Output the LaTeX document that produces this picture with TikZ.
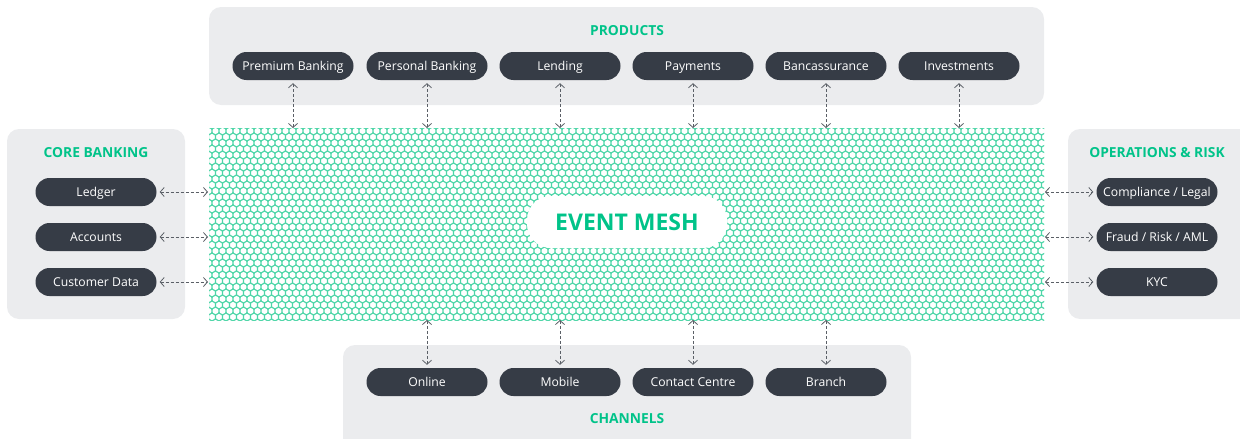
\documentclass[tikz,border=0pt]{standalone}
\usepackage{fontspec}
\setmainfont{Open Sans}
\usetikzlibrary{arrows.meta}
\definecolor{boxgray}{HTML}{EBECEE}
\definecolor{pilldark}{HTML}{363C46}
\definecolor{mgreen}{HTML}{00C389}
\definecolor{meshgreen}{HTML}{4DD5A7}
\definecolor{arrgray}{HTML}{5A5F66}
\tikzset{
  panel/.style={fill=boxgray, draw=none, rounded corners=12pt},
  pill/.style={fill=pilldark, text=white, rounded corners=14pt, minimum width=121pt, minimum height=28pt, inner sep=0pt, text height=8.7pt, text depth=0pt, font=\fontsize{12.2}{14}\selectfont},
  ttl/.style={text=mgreen, font=\fontsize{13.8}{16}\selectfont\bfseries},
  link/.style={draw=arrgray, line width=0.8pt, dash pattern=on 3pt off 2pt, {Straight Barb[length=4pt,width=9pt]}-{Straight Barb[length=4pt,width=9pt]}}
}
\begin{document}
\begin{tikzpicture}[x=1pt,y=-1pt]
\useasboundingbox (0,0) rectangle (1240,439);
\begin{scope}
\clip (0,0) rectangle (1240,439);
% panels
\fill[panel] (209,7) rectangle (1044,105);
\fill[panel] (7,129) rectangle (185,319);
\fill[panel] (1068,129) rectangle (1262,319);
\fill[panel] (343,345) rectangle (911,460);
\end{scope}
% mesh
\begin{scope}
\clip (209,128) rectangle (1044,320);
\foreach \j in {0,...,33} {
  \pgfmathsetmacro{\off}{3.5*mod(\j,2)}
  \draw[meshgreen, line width=0.8pt] foreach \i in {0,...,121} {
    ({205+7*\i+\off},{125+6*\j}) circle (3.8)
  };
}
\end{scope}
\node[fill=white, rounded corners=24pt, minimum width=200pt, minimum height=52pt, text=mgreen, font=\fontsize{23}{26}\selectfont\bfseries] (mesh) at (627,222) {EVENT MESH};
% titles
\node[ttl] (tprod) at (627,31) {PRODUCTS};
\node[ttl] (tcore) at (96,153) {CORE BANKING};
\node[ttl] (tops) at (1157,153) {OPERATIONS \& RISK};
\node[ttl] (tchan) at (627,419) {CHANNELS};
% products
\node[pill] (p1) at (293,66) {Premium Banking};
\node[pill] (p2) at (427,66) {Personal Banking};
\node[pill] (p3) at (560,66) {Lending};
\node[pill] (p4) at (693,66) {Payments};
\node[pill] (p5) at (826,66) {Bancassurance};
\node[pill] (p6) at (959,66) {Investments};
% core
\node[pill] (c1) at (96,192) {Ledger};
\node[pill] (c2) at (96,237) {Accounts};
\node[pill] (c3) at (96,282) {Customer Data};
% ops
\node[pill] (o1) at (1157,192) {Compliance / Legal};
\node[pill] (o2) at (1157,237) {Fraud / Risk / AML};
\node[pill] (o3) at (1157,282) {KYC};
% channels
\node[pill] (h1) at (427,382) {Online};
\node[pill] (h2) at (560,382) {Mobile};
\node[pill] (h3) at (693,382) {Contact Centre};
\node[pill] (h4) at (826,382) {Branch};
% mesh anchor coordinates
\foreach \n/\x in {1/293,2/427,3/560,4/693,5/826,6/959} {
  \coordinate (mt\n) at (\x,128);
}
\foreach \n/\x in {1/427,2/560,3/693,4/826} {
  \coordinate (mb\n) at (\x,320);
}
\foreach \n/\y in {1/192,2/237,3/282} {
  \coordinate (ml\n) at (208,\y);
  \coordinate (mr\n) at (1045,\y);
}
% links
\foreach \n in {1,...,6} { \draw[link] ([yshift=-3pt]p\n.south) -- (mt\n); }
\foreach \n in {1,...,4} { \draw[link] (mb\n) -- ([yshift=3pt]h\n.north); }
\foreach \n in {1,2,3} {
  \draw[link] ([xshift=3pt]c\n.east) -- (ml\n);
  \draw[link] (mr\n) -- ([xshift=-3pt]o\n.west);
}
\end{tikzpicture}
\end{document}
